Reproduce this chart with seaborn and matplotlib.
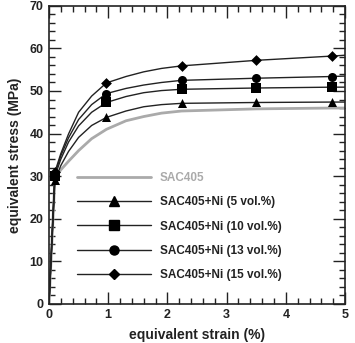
import numpy as np
import pandas as pd
import matplotlib
matplotlib.use("Agg")
import matplotlib.pyplot as plt
from matplotlib.lines import Line2D
from matplotlib.ticker import MultipleLocator
import seaborn as sns

sns.set_style("ticks")
plt.rcParams['font.family'] = ['Liberation Sans', 'DejaVu Sans']
plt.rcParams['font.weight'] = 'bold'

# points (strain in %, stress in MPa)
strain = [0, 0.1, 0.2, 0.33, 0.5, 0.72, 0.97, 1.3, 1.6, 1.9, 2.24, 3.5, 4.78, 5.0]
sac405 = [0, 29.5, 31.5, 33.5, 36.0, 38.8, 41.0, 43.0, 44.0, 44.8, 45.3, 45.8, 46.0, 46.0]
ni5 = [0, 29.0, 32.5, 35.8, 39.1, 41.9, 43.8, 45.3, 46.3, 46.8, 47.1, 47.3, 47.4, 47.4]
ni10 = [0, 30.0, 34.0, 38.0, 41.8, 45.0, 47.3, 48.7, 49.6, 50.1, 50.4, 50.7, 50.9, 50.9]
ni13 = [0, 30.5, 34.8, 39.0, 43.3, 46.8, 49.4, 50.6, 51.4, 52.0, 52.5, 53.0, 53.4, 53.5]
ni15 = [0, 31.0, 35.3, 39.9, 45.0, 48.8, 51.9, 53.4, 54.5, 55.3, 55.9, 57.2, 58.2, 58.4]
marker_idx = [1, 6, 10, 11, 12]

labels = ["SAC405", "SAC405+Ni (5 vol.%)", "SAC405+Ni (10 vol.%)",
          "SAC405+Ni (13 vol.%)", "SAC405+Ni (15 vol.%)"]
series = [sac405, ni5, ni10, ni13, ni15]
markers = [None, "^", "s", "o", "D"]
gray = "#aaaaaa"

fig = plt.figure(figsize=(3.55, 3.43), dpi=100)
ax = fig.add_axes([0.138, 0.114, 0.834, 0.869])

handles = []
for lab, vals, mk in zip(labels, series, markers):
    df = pd.DataFrame({"strain": strain, "stress": vals})
    if mk is None:
        sns.lineplot(data=df, x="strain", y="stress", ax=ax, color=gray,
                     linewidth=2.0, sort=False)
        handles.append(Line2D([], [], color=gray, linewidth=2.0))
    else:
        sns.lineplot(data=df, x="strain", y="stress", ax=ax, color="#222222",
                     linewidth=1.0, sort=False)
        pts = df.iloc[marker_idx]
        ms = 5.5 if mk == "D" else 6.5
        sns.scatterplot(data=pts, x="strain", y="stress", ax=ax, marker=mk,
                        color="black", s=ms ** 2, edgecolor="black", linewidth=0,
                        zorder=3)
        handles.append(Line2D([], [], color="#222222", linewidth=1.0, marker=mk,
                              markersize=ms, markerfacecolor="black",
                              markeredgecolor="black"))

ax.set_xlim(0, 5)
ax.set_ylim(0, 70)
ax.xaxis.set_major_locator(MultipleLocator(1))
ax.xaxis.set_minor_locator(MultipleLocator(0.2))
ax.yaxis.set_major_locator(MultipleLocator(10))
ax.yaxis.set_minor_locator(MultipleLocator(2))
ax.tick_params(which="both", direction="in", top=True, right=True,
               labelsize=9, width=1.0, color="#222222", labelcolor="#222222")
ax.tick_params(which="major", length=8.5, pad=4)
ax.tick_params(which="minor", length=4.5)
for s in ax.spines.values():
    s.set_linewidth(1.2)
    s.set_color("#222222")

ax.set_xlabel("equivalent strain (%)", fontsize=10, fontweight="bold", labelpad=5,
              color="#222222")
ax.set_ylabel("equivalent stress (MPa)", fontsize=10, fontweight="bold", labelpad=5,
              color="#222222")

leg = ax.legend(handles, labels, loc="lower left", bbox_to_anchor=(0.06, 0.04),
                frameon=False, fontsize=8.5, handlelength=6.2, handletextpad=0.8,
                labelspacing=1.05, numpoints=1)
for t in leg.get_texts():
    t.set_fontweight("bold")
    t.set_color("#222222")
leg.get_texts()[0].set_color(gray)

plt.savefig("out.png", dpi=100)
